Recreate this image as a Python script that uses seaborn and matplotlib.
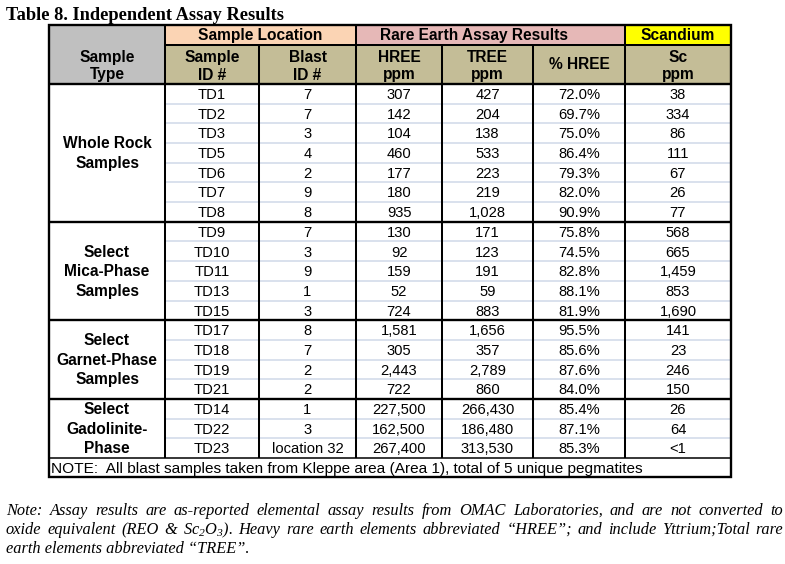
import numpy as np
import pandas as pd
import seaborn as sns
import matplotlib
matplotlib.use("Agg")
import matplotlib.pyplot as plt
from matplotlib.patches import Rectangle

# ---------------- data ----------------
title = "Table 8. Independent Assay Results"
group_header = ["Sample Location", "Rare Earth Assay Results", "Scandium"]
col_headers = [("Sample", "ID #"), ("Blast", "ID #"), ("HREE", "ppm"),
               ("TREE", "ppm"), ("% HREE",), ("Sc", "ppm")]
sample_type_header = ("Sample", "Type")

group_labels = [("Whole Rock", "Samples"),
                ("Select", "Mica-Phase", "Samples"),
                ("Select", "Garnet-Phase", "Samples"),
                ("Select", "Gadolinite-", "Phase")]
group_sizes = [7, 5, 4, 3]

sample_ids = ["TD1", "TD2", "TD3", "TD5", "TD6", "TD7", "TD8",
              "TD9", "TD10", "TD11", "TD13", "TD15",
              "TD17", "TD18", "TD19", "TD21",
              "TD14", "TD22", "TD23"]
blast_ids = ["7", "7", "3", "4", "2", "9", "8",
             "7", "3", "9", "1", "3",
             "8", "7", "2", "2",
             "1", "3", "location 32"]
hree_ppm = [307, 142, 104, 460, 177, 180, 935,
            130, 92, 159, 52, 724,
            1581, 305, 2443, 722,
            227500, 162500, 267400]
tree_ppm = [427, 204, 138, 533, 223, 219, 1028,
            171, 123, 191, 59, 883,
            1656, 357, 2789, 860,
            266430, 186480, 313530]
pct_hree = [72.0, 69.7, 75.0, 86.4, 79.3, 82.0, 90.9,
            75.8, 74.5, 82.8, 88.1, 81.9,
            95.5, 85.6, 87.6, 84.0,
            85.4, 87.1, 85.3]
sc_ppm = ["38", "334", "86", "111", "67", "26", "77",
          "568", "665", "1,459", "853", "1,690",
          "141", "23", "246", "150",
          "26", "64", "<1"]

table_note = "NOTE:  All blast samples taken from Kleppe area (Area 1), total of 5 unique pegmatites"
foot_lines = [
    "Note: Assay results are as-reported elemental assay results from OMAC Laboratories, and are not converted to",
    "oxide equivalent (REO & Sc$_2$O$_3$).  Heavy rare earth elements abbreviated \u201cHREE\u201d; and include Yttrium;Total rare",
    "earth elements abbreviated \u201cTREE\u201d.",
]

df = pd.DataFrame({"id": sample_ids, "blast": blast_ids, "hree": hree_ppm,
                   "tree": tree_ppm, "pct": pct_hree, "sc": sc_ppm})
cells = pd.DataFrame({
    "id": df["id"],
    "blast": df["blast"],
    "hree": df["hree"].map(lambda v: f"{v:,}"),
    "tree": df["tree"].map(lambda v: f"{v:,}"),
    "pct": df["pct"].map(lambda v: f"{v:.1f}%"),
    "sc": df["sc"],
})

# ---------------- style ----------------
sns.set_theme(style="white")
plt.rcParams['font.family'] = ['Liberation Sans', 'DejaVu Sans']
plt.rcParams['mathtext.fontset'] = 'custom'
plt.rcParams['mathtext.rm'] = 'Liberation Serif:italic'
plt.rcParams['mathtext.it'] = 'Liberation Serif:italic'

W, H = 785, 564
fig = plt.figure(figsize=(W / 100, H / 100), dpi=100)
ax = fig.add_axes([0, 0, 1, 1])
ax.set_xlim(0, W)
ax.set_ylim(H, 0)
ax.axis('off')

edges = [49, 165, 259, 356, 442, 533, 625, 731]
y_top, y_h1, y_h2 = 25, 44.5, 84
y_body_end, y_note_end = 458, 477
n = len(sample_ids)
row_h = (y_body_end - y_h2) / n

c_gray, c_peach, c_pink, c_yellow, c_olive = "#C0C0C0", "#FBD4B4", "#E6B8B7", "#FFFF00", "#C4BD97"
c_light = "#D0D9E8"
LW = 1.45
HDR = dict(fontsize=11.2, fontweight='bold', color='black', ha='center', va='baseline')
DAT = dict(fontsize=10.6, color='black', ha='center', va='baseline')


def rect(x0, y0, x1, y1, color):
    ax.add_patch(Rectangle((x0, y0), x1 - x0, y1 - y0, facecolor=color, edgecolor='none', zorder=1))


def hline(y, x0, x1, lw=LW, color='black', z=3):
    ax.plot([x0, x1], [y, y], color=color, lw=lw, solid_capstyle='butt', zorder=z)


def vline(x, y0, y1, lw=LW, color='black', z=3):
    ax.plot([x, x], [y0, y1], color=color, lw=lw, solid_capstyle='butt', zorder=z)


# header fills
rect(edges[0], y_top, edges[1], y_h2, c_gray)
rect(edges[1], y_top, edges[3], y_h1, c_peach)
rect(edges[3], y_top, edges[6], y_h1, c_pink)
rect(edges[6], y_top, edges[7], y_h1, c_yellow)
rect(edges[1], y_h1, edges[7], y_h2, c_olive)

# header texts
xc = lambda a, b: (edges[a] + edges[b]) / 2
ax.text(xc(0, 1), 62, sample_type_header[0], **HDR)
ax.text(xc(0, 1), 79.5, sample_type_header[1], **HDR)
ax.text(xc(1, 3), 40, group_header[0], **HDR)
ax.text(xc(3, 6) - 17, 40, group_header[1], **HDR)
ax.text(xc(6, 7), 40, group_header[2], **HDR)
for j, hdr in enumerate(col_headers):
    x = xc(j + 1, j + 2)
    if len(hdr) == 2:
        ax.text(x, 62, hdr[0], **HDR)
        ax.text(x, 79.5, hdr[1], **HDR)
    else:
        ax.text(x, 69, hdr[0], **HDR)

# body rows
cols = list(cells.columns)
for i in range(n):
    yc = y_h2 + (i + 0.5) * row_h
    for j, c in enumerate(cols):
        ax.text(xc(j + 1, j + 2), yc + 5.2, cells.iloc[i][c], **DAT)

# group labels and separators
start = 0
bounds = []
for lab, size in zip(group_labels, group_sizes):
    y0 = y_h2 + start * row_h
    y1 = y_h2 + (start + size) * row_h
    ycen = (y0 + y1) / 2
    k = len(lab)
    for m, line in enumerate(lab):
        ax.text(xc(0, 1), ycen + (m - (k - 1) / 2) * 19.5 + 5.3, line, **HDR)
    for r in range(1, size):
        hline(y_h2 + (start + r) * row_h, edges[1], edges[7], lw=1.1, color=c_light, z=2)
    bounds.append(y1)
    start += size

# black grid
hline(y_h1, edges[1], edges[7])
hline(y_h2, edges[0], edges[7], lw=1.7)
for b in bounds[:-1]:
    hline(b, edges[0], edges[7], lw=1.7)
hline(y_body_end, edges[0], edges[7], lw=1.1)
for j in (1, 3, 6):
    vline(edges[j], y_top, y_body_end)
for j in (2, 4, 5):
    vline(edges[j], y_h1, y_body_end)
ax.add_patch(Rectangle((edges[0], y_top), edges[7] - edges[0], y_note_end - y_top,
                       facecolor='none', edgecolor='black', lw=1.7, zorder=4))

# note row
ax.text(edges[0] + 2, y_note_end - 3.8, table_note, fontsize=11.1, color='black', ha='left', va='baseline')

# title
ax.text(6, 20, title, family=['Liberation Serif', 'DejaVu Serif'], fontsize=13.2,
        fontweight='bold', color='black', ha='left', va='baseline')

# footnote, justified
FOOT = dict(family=['Liberation Serif', 'DejaVu Serif'], fontsize=11.8, style='italic',
            color='black', ha='left', va='baseline')
fig.canvas.draw()
rend = fig.canvas.get_renderer()
x_left, x_right = 6, 783
baselines = [515, 534, 553]
for li, (line, yb) in enumerate(zip(foot_lines, baselines)):
    if li == len(foot_lines) - 1:
        ax.text(x_left, yb, line, **FOOT)
        continue
    words = line.split()
    objs = [ax.text(0, yb, w, **FOOT) for w in words]
    widths = [o.get_window_extent(rend).width for o in objs]
    gap = (x_right - x_left - sum(widths)) / (len(words) - 1)
    x = x_left
    for o, w in zip(objs, widths):
        o.set_x(x)
        x += w + gap

fig.savefig("out.png", dpi=100, facecolor='white')
